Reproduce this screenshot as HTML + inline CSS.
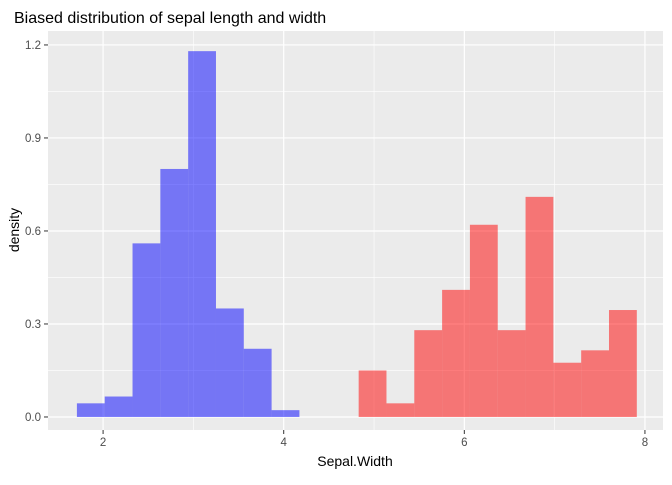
<!DOCTYPE html>
<html><head><meta charset="utf-8">
<style>
body{margin:0;background:#fff;font-family:"Liberation Sans",Arial,sans-serif;}
svg text{font-family:"Liberation Sans",Arial,sans-serif;}
</style></head>
<body>
<svg id="chart" width="672" height="480" xmlns="http://www.w3.org/2000/svg">
<rect width="672" height="480" fill="#fff"/>
<text x="14" y="23" font-size="16" fill="#000">Biased distribution of sepal length and width</text>
<rect x="48" y="31" width="615" height="399" fill="#EBEBEB"/>
<g id="grid"></g>
<g id="bars"></g>
<g id="axes"></g>
<text x="355" y="466" font-size="14" text-anchor="middle" fill="#000">Sepal.Width</text>
<text transform="translate(19,230) rotate(-90)" font-size="14" text-anchor="middle" fill="#000">density</text>
</svg>
<script>
const blueStart = 1.71;
const redStart = 4.83;
const binWidth = 0.308;
const blueDensity = [0.044,0.066,0.56,0.80,1.18,0.35,0.22,0.022];
const redDensity = [0.15,0.044,0.28,0.41,0.62,0.28,0.71,0.175,0.215,0.345];
const xTicks = [2,4,6,8];
const yTicks = [0,0.3,0.6,0.9,1.2];
const yTickLabels = ["0.0","0.3","0.6","0.9","1.2"];

const X0=48,X1=663,Y0=31,Y1=430;
const xMin=1.39,xMax=8.2,yMin=-0.042,yMax=1.245;
const sx=v=>X0+(v-xMin)/(xMax-xMin)*(X1-X0);
const sy=v=>Y1-(v-yMin)/(yMax-yMin)*(Y1-Y0);
const NS="http://www.w3.org/2000/svg";
function mk(tag,attrs,parent){const e=document.createElementNS(NS,tag);for(const k in attrs)e.setAttribute(k,attrs[k]);parent.appendChild(e);return e;}
const grid=document.getElementById('grid'),bars=document.getElementById('bars'),axes=document.getElementById('axes');

for(let i=0;i<xTicks.length;i++){
  const m=xTicks[i]-1;
  const l=mk('line',{x1:sx(m),x2:sx(m),y1:Y0,y2:Y1,stroke:'#fff','stroke-width':0.6},grid);
  
  
}
for(let i=0;i<yTicks.length;i++){
  const m=yTicks[i]+0.15;
  if(m<yMax){
    const l=mk('line',{x1:X0,x2:X1,y1:sy(m),y2:sy(m),stroke:'#fff','stroke-width':0.6},grid);
    
    
  }
}
xTicks.forEach(t=>{
  const l=mk('line',{x1:sx(t),x2:sx(t),y1:Y0,y2:Y1,stroke:'#fff','stroke-width':1.2},grid);
  
  
  const tk=mk('line',{x1:sx(t),x2:sx(t),y1:Y1,y2:Y1+4,stroke:'#333','stroke-width':1},axes);
  
  
  const tx=mk('text',{x:sx(t),y:Y1+16,'font-size':11.5,'text-anchor':'middle',fill:'#4D4D4D'},axes);
  tx.textContent=t;
  
  
});
yTicks.forEach((t,i)=>{
  const l=mk('line',{x1:X0,x2:X1,y1:sy(t),y2:sy(t),stroke:'#fff','stroke-width':1.2},grid);
  
  
  const tk=mk('line',{x1:X0-4,x2:X0,y1:sy(t),y2:sy(t),stroke:'#333','stroke-width':1},axes);
  
  
  const tx=mk('text',{x:X0-7,y:sy(t)+4,'font-size':11.5,'text-anchor':'end',fill:'#4D4D4D'},axes);
  tx.textContent=yTickLabels[i];
  
  
});
function drawSeries(start,vals,color,name){
  vals.forEach((v,i)=>{
    const a=start+i*binWidth,b=a+binWidth;
    const r=mk('rect',{x:sx(a),y:sy(v),width:sx(b)-sx(a),height:sy(0)-sy(v),fill:color,'fill-opacity':0.5},bars);
    
    
  });
}
drawSeries(blueStart,blueDensity,'#0000FF','sepal-width');
drawSeries(redStart,redDensity,'#FF0000','sepal-length');
</script>
</body></html>
